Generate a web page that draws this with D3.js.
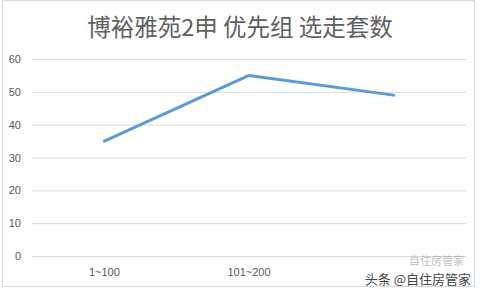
<!DOCTYPE html>
<html>
<head>
<meta charset="utf-8">
<script src="https://cdn.jsdelivr.net/npm/d3@7"></script>
<style>
  body { margin: 0; background: #fff; }
  svg { display: block; font-family: "Noto Sans CJK SC", "Noto Sans", sans-serif; }
</style>
</head>
<body>
<svg id="canvas" width="480" height="289"></svg>
<script>
let title = "博裕雅苑2申 优先组 选走套数";
let categories = ["1~100", "101~200", "201~300"];
let values = [35, 55, 49];
let yTicks = [0, 10, 20, 30, 40, 50, 60];

let canvas = d3.select("#canvas");

// outer chart border
canvas.append("rect")
    .attr("x", 2.5).attr("y", 0.5)
    .attr("width", 472).attr("height", 286)
    .attr("fill", "#fff")
    .attr("stroke", "#d9d9d9");

canvas.append("text")
    .attr("x", 240).attr("y", 36)
    .attr("text-anchor", "middle")
    .attr("font-size", 23.5)
    .attr("fill", "#5f5f5f")
    .text(title);

let x = d3.scaleBand().domain(categories).range([32, 466]);
let y = d3.scaleLinear().domain([0, 60]).range([256, 59]);

// gridlines + y labels
let yAxis = d3.axisLeft(y).tickValues(yTicks).tickSize(-(466 - 32)).tickPadding(11);
let gy = canvas.append("g").attr("transform", "translate(32,0)").call(yAxis);
gy.select(".domain").remove();
gy.selectAll(".tick line").attr("stroke", "#d9d9d9");
gy.selectAll(".tick text")
    .attr("fill", "#595959")
    .attr("font-size", 11)
    .attr("font-family", "'Liberation Sans', sans-serif");

// x labels (the last one is hidden under the watermark in the original)
let xAxis = d3.axisBottom(x).tickSize(0).tickPadding(12)
    .tickFormat((d, i) => i === categories.length - 1 ? "" : d);
let gx = canvas.append("g").attr("transform", "translate(0,256)").call(xAxis);
gx.select(".domain").remove();
gx.selectAll(".tick text")
    .attr("fill", "#595959")
    .attr("font-size", 11)
    .attr("font-family", "'Liberation Sans', sans-serif");

let line = d3.line()
    .x((d, i) => x(categories[i]) + x.bandwidth() / 2)
    .y(d => y(d));

canvas.append("path")
    .datum(values)
    .attr("d", line)
    .attr("fill", "none")
    .attr("stroke", "#5b9bd5")
    .attr("stroke-width", 3)
    .attr("stroke-linejoin", "round")
    .attr("stroke-linecap", "round");

// watermark
canvas.append("text")
    .attr("x", 464).attr("y", 265)
    .attr("text-anchor", "end")
    .attr("font-size", 11)
    .attr("fill", "#999")
    .attr("opacity", 0.6)
    .text("自住房管家");
canvas.append("text")
    .attr("x", 471).attr("y", 284)
    .attr("text-anchor", "end")
    .attr("font-size", 13)
    .attr("fill", "#444")
    .text("头条 @自住房管家");
</script>
</body>
</html>
